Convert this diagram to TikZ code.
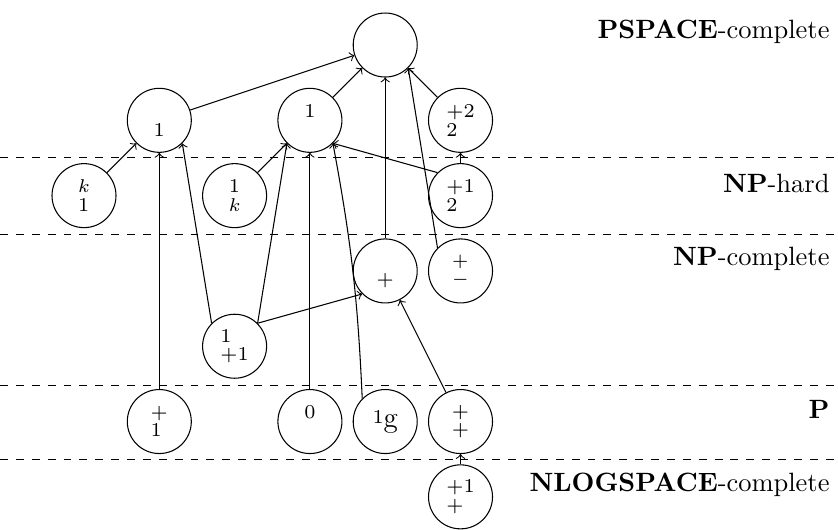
\documentclass[tikz,border=0pt]{standalone}
\begin{document}
\begin{tikzpicture}[
  state/.style={circle, draw, minimum size=0.85cm, inner sep=0pt, align=left,
                font=\fontsize{7.4}{7}\selectfont},
  classlabel/.style={anchor=base east, inner sep=0pt},
  border/.style={dashed},
  link/.style={->}
]
\useasboundingbox (-0.1155,0.598) rectangle (11.013,-6.428);

% class borders
\foreach \r in {1.495,2.51,4.52,5.51}
  \draw[border] (-0.1155,-\r) -- (11.013,-\r);

% class names
\node[classlabel] (lpspace) at (10.907,0.093)  {\textbf{PSPACE}-complete};
\node[classlabel] (lnph)    at (10.907,-1.952) {\textbf{NP}-hard};
\node[classlabel] (lnpc)    at (10.907,-2.922) {\textbf{NP}-complete};
\node[classlabel] (lp)      at (10.907,-4.953) {\textbf{P}};
\node[classlabel] (lnl)     at (10.907,-5.923) {\textbf{NLOGSPACE}-complete};

% problems
\node[state] (top) at (5,0)  {};
\node[state] (A)   at (2,-1) {\phantom{1}\\1};
\node[state] (B)   at (4,-1) {1\\\phantom{1}};
\node[state] (C)   at (6,-1) {+2\\2};
\node[state] (D)   at (1,-2) {$k$\\1};
\node[state] (E)   at (3,-2) {1\\$k$};
\node[state] (F)   at (6,-2) {+1\\2};
\node[state] (G)   at (5,-3) {\phantom{+}\\+};
\node[state] (H)   at (6,-3) {$+$\\$-$};
\node[state] (I)   at (3,-4) {1\\+1};
\node[state] (J)   at (2,-5) {+\\1};
\node[state] (K)   at (4,-5) {0\\\phantom{0}};
\node[state] (L)   at (5,-5) {\raisebox{1.5pt}{1}{\fontsize{11}{12}\selectfont g}};
\node[state] (M)   at (6,-5) {+\\+};
\node[state] (N)   at (6,-6) {+1\\+};

% reductions
\draw[link] (A) -- (top);
\draw[link] (B) -- (top);
\draw[link] (G) -- (top);
\draw[link] (C) -- (top);
\draw[link] (H.north west) -- (top.south east);

\draw[link] (D) -- (A);
\draw[link] (J) -- (A);
\draw[link] (I.north west) -- (A.south east);

\draw[link] (E) -- (B);
\draw[link] (I.north east) -- (B.south west);
\draw[link] (K) -- (B);
\draw[link] (L.north west) to[bend right=4] (B.south east);
\draw[link] (F.north west) -- (B.south east);

\draw[link] (F) -- (C);

\draw[link] (I.north east) -- (G.south west);
\draw[link] (M) -- (G);
\draw[link] (N) -- (M);
\end{tikzpicture}
\end{document}
